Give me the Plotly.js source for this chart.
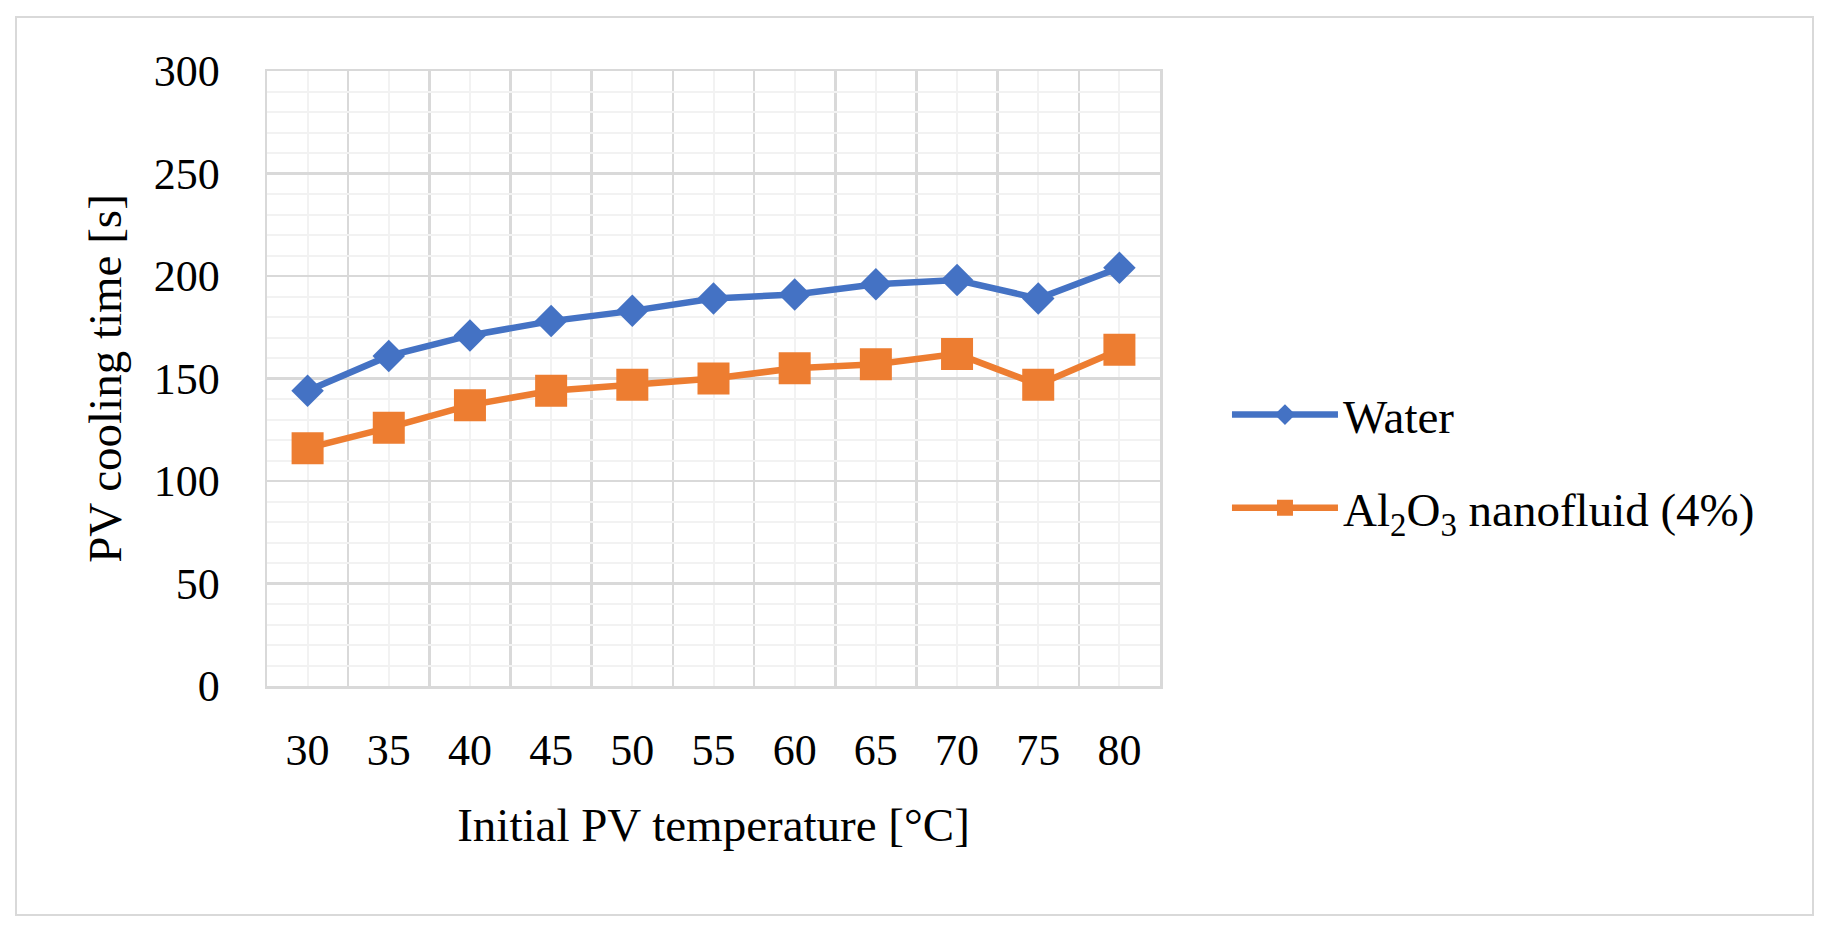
<!DOCTYPE html>
<html>
<head>
<meta charset="utf-8">
<script src="https://cdn.plot.ly/plotly-3.0.1.min.js"></script>
<style>
  body { margin: 0; background: #ffffff; }
  #wrap { position: relative; width: 1830px; height: 930px; }
  #cooling_time { width: 1830px; height: 930px; }
  #frame {
    position: absolute; left: 15px; top: 16px; width: 1795px; height: 896px;
    border: 2px solid #d9d9d9; pointer-events: none;
  }
</style>
</head>
<body>
<div id="wrap">
  <div id="cooling_time"></div>
  <div id="frame"></div>
</div>
<script>
// initial PV temperature [°C]
const temperatures = [30, 35, 40, 45, 50, 55, 60, 65, 70, 75, 80];
// cooling time [s]
const water_time = [144, 161, 171, 178, 183, 189, 191, 196, 198, 189, 204];
const al2o3_time = [116, 126, 137, 144, 147, 150, 155, 157, 162, 147, 164];

const font_name = '"Liberation Serif", "DejaVu Serif", serif';

water = {
    x: temperatures,
    y: water_time,
    name: 'Water',
    legendgroup: 'water',
    type: 'scatter',
    mode: 'lines+markers',
    line: { color: '#4472c4', width: 6.5 },
    marker: { symbol: 'diamond', size: 25, color: '#4472c4' }
};
al2o3 = {
    x: temperatures,
    y: al2o3_time,
    name: 'Al<sub>2</sub>O<sub>3</sub> nanofluid (4%)',
    legendgroup: 'al2o3',
    type: 'scatter',
    mode: 'lines+markers',
    line: { color: '#ed7d31', width: 6.5 },
    marker: { symbol: 'square', size: 32, color: '#ed7d31' }
};

Plotly.newPlot('cooling_time', [ water, al2o3 ],
{
    width: 1830,
    height: 930,
    showlegend: true,
    paper_bgcolor: '#ffffff',
    plot_bgcolor: '#ffffff',
    font: { family: font_name, size: 44, color: '#000000' },
    margin: { l: 267, r: 670, t: 71, b: 244 },
    legend: {
        x: 1.075, xanchor: 'left',
        y: 0.365, yanchor: 'middle',
        tracegroupgap: 29,
        font: { family: font_name, size: 47, color: '#000000' },
        itemwidth: 106
    },
    xaxis: {
        title: { text: 'Initial PV temperature [°C]', font: { size: 47 }, standoff: 34 },
        range: [27.5, 82.5],
        tickmode: 'array',
        tickvals: temperatures,
        ticktext: temperatures.map(String),
        ticklabelstandoff: 24,
        showgrid: true,
        gridcolor: '#f2f2f2',
        gridwidth: 2,
        minor: { tick0: 27.5, dtick: 5, showgrid: true, gridcolor: '#d9d9d9', gridwidth: 2.5 },
        showline: true,
        mirror: true,
        linecolor: '#d9d9d9',
        linewidth: 2.5,
        zeroline: false,
        fixedrange: true,
        automargin: false
    },
    yaxis: {
        title: { text: 'PV cooling time [s]', font: { size: 47 }, standoff: 18 },
        range: [0, 300],
        tick0: 0,
        dtick: 50,
        ticklabelstandoff: 36,
        showgrid: true,
        gridcolor: '#d9d9d9',
        gridwidth: 2.5,
        minor: { dtick: 10, showgrid: true, gridcolor: '#f2f2f2', gridwidth: 2 },
        showline: true,
        mirror: true,
        linecolor: '#d9d9d9',
        linewidth: 2.5,
        zeroline: false,
        fixedrange: true,
        automargin: false
    }
}, { staticPlot: true });
</script>
</body>
</html>
